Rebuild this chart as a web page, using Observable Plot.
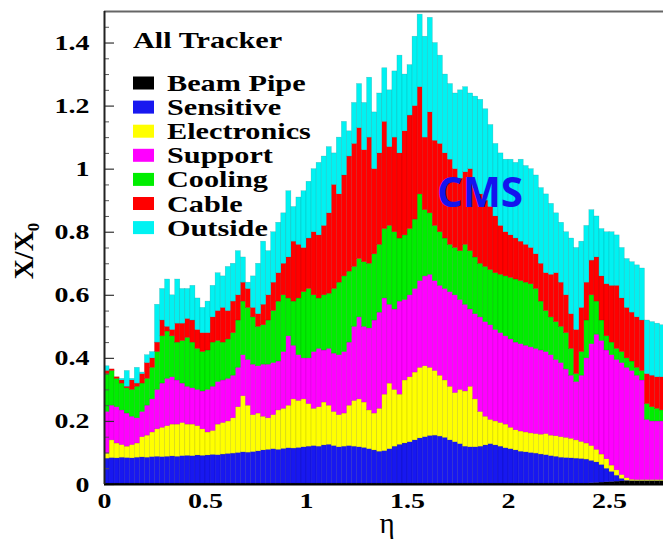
<!DOCTYPE html>
<html><head><meta charset="utf-8">
<script src="https://cdn.jsdelivr.net/npm/d3@7"></script>
<script src="https://cdn.jsdelivr.net/npm/@observablehq/plot@0.6"></script>
<style>body{margin:0;background:#fff} #chart{width:663px;height:541px;overflow:hidden}</style>
</head><body><div id="chart"></div>
<script>
// histogram bin width in eta
const binWidth = 0.025;
const layers = ["Beam Pipe","Sensitive","Electronics","Support","Cooling","Cable","Outside"];
const layerColors = ["#000000","#1818f0","#ffff00","#ff00ff","#00ee00","#ff0000","#00f2f2"];
const edgeColors = ["#000000","#0c0c8a","#9a9a00","#9a009a","#008a00","#9a0000","#128e8e"];
const xTicks = [0, 0.5, 1, 1.5, 2, 2.5];
const yTicks = [0, 0.2, 0.4, 0.6, 0.8, 1, 1.2, 1.4];
const yMinorTicks = [0.05,0.1,0.15,0.25,0.3,0.35,0.45,0.5,0.55,0.65,0.7,0.75,0.85,0.9,0.95,1.05,1.1,1.15,1.25,1.3,1.35,1.45];

// cumulative tops (X/X0) of each stacked component, one value per eta bin
const beamPipeTop = [0.003,0.003,0.003,0.003,0.003,0.003,0.003,0.003,0.003,0.003,0.003,0.003,
 0.003,0.003,0.003,0.003,0.003,0.003,0.003,0.003,
 0.003,0.003,0.003,0.003,0.003,0.003,0.003,0.003,0.003,0.003,
 0.003,0.003,0.003,0.003,0.003,0.003,0.003,0.003,0.003,0.003,
 0.003,0.003,0.003,0.003,0.003,0.003,0.003,0.003,0.003,0.003,
 0.003,0.003,0.003,0.003,0.003,0.003,0.003,0.003,0.003,0.003,
 0.003,0.003,0.003,0.003,0.003,0.003,0.003,0.003,0.003,0.003,
 0.003,0.003,0.003,0.003,0.003,0.003,0.003,0.003,0.003,0.003,
 0.003,0.003,0.003,0.003,0.003,0.003,0.003,0.003,0.003,0.003,
 0.003,0.003,0.003,0.003,0.003,0.003,0.004,0.005,0.006,0.007,
 0.008,0.009,0.010,0.010,0.010,0.010,0.010,0.010,0.010,0.010,0.010];
const sensitiveTop = [0.082,0.084,0.083,0.085,0.084,0.083,0.085,0.086,0.085,0.087,0.088,0.087,
 0.088,0.089,0.088,0.090,0.091,0.090,0.092,0.091,
 0.092,0.094,0.093,0.095,0.097,0.098,0.100,0.102,0.101,0.103,
 0.105,0.108,0.110,0.112,0.110,0.113,0.115,0.114,0.116,0.118,
 0.120,0.122,0.120,0.124,0.126,0.122,0.118,0.120,0.122,0.120,
 0.118,0.116,0.112,0.108,0.104,0.106,0.112,0.120,0.126,0.130,
 0.134,0.140,0.146,0.150,0.154,0.155,0.152,0.148,0.140,0.134,
 0.128,0.120,0.118,0.118,0.120,0.124,0.128,0.124,0.120,0.115,
 0.112,0.108,0.104,0.102,0.100,0.098,0.095,0.093,0.090,0.088,
 0.085,0.084,0.083,0.082,0.081,0.079,0.075,0.070,0.062,0.050,
 0.040,0.028,0.018,0.012,0.011,0.011,0.011,0.011,0.011,0.011,0.011];
const electronicsTop = [0.098,0.140,0.130,0.125,0.120,0.125,0.130,0.150,0.155,0.165,0.175,0.180,
 0.185,0.190,0.190,0.195,0.190,0.190,0.185,0.175,
 0.165,0.170,0.190,0.195,0.200,0.210,0.245,0.280,0.250,0.220,
 0.225,0.215,0.210,0.220,0.235,0.240,0.250,0.270,0.265,0.270,
 0.255,0.240,0.245,0.260,0.250,0.230,0.220,0.225,0.250,0.265,
 0.270,0.260,0.235,0.225,0.240,0.285,0.320,0.300,0.285,0.330,
 0.340,0.355,0.370,0.375,0.370,0.360,0.345,0.330,0.310,0.290,
 0.300,0.295,0.310,0.270,0.230,0.215,0.205,0.200,0.195,0.190,
 0.180,0.172,0.168,0.165,0.162,0.160,0.158,0.160,0.155,0.153,
 0.150,0.148,0.145,0.140,0.135,0.130,0.122,0.110,0.095,0.080,
 0.060,0.045,0.030,0.020,0.015,0.014,0.014,0.014,0.014,0.014,0.014];
const supportTop = [0.230,0.250,0.245,0.235,0.225,0.215,0.210,0.230,0.250,0.270,0.300,0.320,
 0.335,0.340,0.330,0.320,0.310,0.305,0.300,0.295,
 0.300,0.310,0.325,0.330,0.335,0.345,0.370,0.410,0.395,0.380,
 0.375,0.380,0.380,0.385,0.390,0.420,0.470,0.440,0.410,0.400,
 0.400,0.420,0.430,0.425,0.430,0.415,0.410,0.420,0.450,0.500,
 0.530,0.500,0.495,0.520,0.545,0.590,0.570,0.555,0.580,0.585,
 0.600,0.620,0.645,0.660,0.665,0.645,0.630,0.620,0.610,0.600,
 0.585,0.570,0.555,0.540,0.530,0.515,0.505,0.490,0.480,0.470,
 0.460,0.450,0.445,0.440,0.435,0.430,0.425,0.420,0.410,0.395,
 0.385,0.365,0.345,0.325,0.345,0.400,0.445,0.475,0.455,0.425,
 0.410,0.395,0.385,0.370,0.360,0.345,0.330,0.205,0.200,0.200,0.200];
const coolingTop = [0.350,0.360,0.335,0.320,0.305,0.300,0.310,0.320,0.335,0.370,0.420,0.470,
 0.485,0.470,0.450,0.455,0.465,0.450,0.430,0.420,
 0.425,0.450,0.455,0.450,0.460,0.480,0.520,0.580,0.560,0.530,
 0.500,0.505,0.520,0.550,0.580,0.600,0.590,0.580,0.590,0.610,
 0.620,0.600,0.590,0.600,0.605,0.620,0.640,0.660,0.675,0.690,
 0.715,0.705,0.700,0.730,0.760,0.810,0.820,0.800,0.780,0.790,
 0.810,0.840,0.920,0.870,0.860,0.820,0.800,0.780,0.760,0.750,
 0.740,0.760,0.740,0.720,0.700,0.690,0.680,0.670,0.665,0.660,
 0.655,0.650,0.645,0.640,0.635,0.620,0.580,0.550,0.530,0.515,
 0.500,0.480,0.430,0.350,0.420,0.520,0.600,0.580,0.520,0.470,
 0.450,0.430,0.420,0.400,0.390,0.370,0.360,0.255,0.245,0.240,0.235];
const cableTop = [0.360,0.365,0.340,0.330,0.310,0.330,0.320,0.350,0.385,0.400,0.450,0.520,
 0.500,0.490,0.510,0.510,0.525,0.520,0.490,0.480,
 0.480,0.530,0.550,0.560,0.550,0.580,0.600,0.640,0.620,0.560,
 0.540,0.570,0.600,0.640,0.670,0.700,0.720,0.770,0.760,0.750,
 0.780,0.800,0.790,0.820,0.860,0.950,0.920,0.980,1.040,1.080,
 1.130,1.060,1.100,1.000,1.050,1.150,1.070,1.100,1.050,1.120,
 1.170,1.200,1.260,1.100,1.180,1.090,1.080,1.050,1.030,1.000,
 0.970,0.990,1.000,0.940,0.920,0.900,0.880,0.850,0.820,0.800,
 0.790,0.780,0.770,0.760,0.750,0.730,0.700,0.670,0.665,0.670,
 0.640,0.600,0.540,0.490,0.560,0.640,0.710,0.720,0.660,0.635,
 0.630,0.630,0.590,0.560,0.545,0.530,0.520,0.350,0.345,0.340,0.340];
const outsideTop = [0.375,0.365,0.340,0.335,0.360,0.335,0.370,0.355,0.410,0.420,0.570,0.620,
 0.650,0.600,0.650,0.620,0.620,0.630,0.590,0.560,
 0.580,0.630,0.670,0.660,0.690,0.700,0.740,0.720,0.640,0.660,
 0.700,0.770,0.740,0.800,0.830,0.860,0.930,0.880,0.910,0.930,
 0.960,1.000,1.020,1.040,1.070,1.050,1.100,1.150,1.120,1.210,
 1.270,1.210,1.290,1.180,1.240,1.320,1.250,1.310,1.360,1.300,
 1.330,1.420,1.490,1.420,1.480,1.400,1.360,1.300,1.270,1.240,
 1.250,1.260,1.240,1.230,1.220,1.190,1.140,1.080,1.050,1.030,
 1.030,1.020,1.030,1.010,1.000,0.980,0.940,0.920,0.890,0.860,
 0.830,0.800,0.780,0.750,0.770,0.820,0.870,0.850,0.810,0.800,
 0.800,0.790,0.750,0.715,0.705,0.695,0.685,0.520,0.515,0.510,0.505];

const tops = [beamPipeTop, sensitiveTop, electronicsTop, supportTop, coolingTop, cableTop, outsideTop];

const layerMarks = layers.map((name, k) => {
  const rows = tops[k].map((v, i) => ({x1: i * binWidth, x2: (i + 1) * binWidth, y1: k ? tops[k - 1][i] : 0, y2: v}));
  return Plot.rect(rows, {x1: "x1", x2: "x2", y1: "y1", y2: "y2", fill: layerColors[k], stroke: edgeColors[k], strokeWidth: 0.5, strokeOpacity: 0.45, clip: true});
});

const fontSerif = "'Liberation Serif','Times New Roman',serif";
const plot = Plot.plot({
  width: 663, height: 541,
  marginLeft: 104, marginRight: 0, marginTop: 11, marginBottom: 57,
  x: {domain: [0, 2.767], ticks: xTicks, tickFormat: d => String(d), tickSize: 0, tickPadding: 8, label: null},
  y: {domain: [0, 1.5], ticks: yTicks, tickFormat: d => String(d), tickSize: 0, tickPadding: 15, label: null},
  style: {fontFamily: fontSerif, fontWeight: "bold", fontSize: "22px", background: "white", color: "black"},
  marks: [
    ...layerMarks,
    Plot.tickY(yTicks, {y: d => d, insetRight: 549, stroke: "#333", strokeWidth: 1.2}),
    Plot.tickY(yMinorTicks, {y: d => d, insetRight: 554, stroke: "#555", strokeWidth: 1}),
    Plot.ruleY([1.5], {stroke: "#666", strokeWidth: 2}),
    Plot.ruleY([0], {stroke: "#000", strokeWidth: 2}),
    Plot.ruleX([0], {stroke: "#222", strokeWidth: 2})
  ]
});
document.getElementById("chart").appendChild(plot);

const svg = d3.select(plot);
const stretchFactor = 1.27;
function stretch(sel, f) {
  sel.each(function() {
    const L = this.getComputedTextLength();
    this.setAttribute("textLength", L * f);
    this.setAttribute("lengthAdjust", "spacingAndGlyphs");
  });
}
stretch(svg.selectAll("g[aria-label$='tick label'] text"), stretchFactor);

// legend
const lg = svg.append("g").attr("font-family", fontSerif).attr("font-weight", "bold").attr("text-anchor", "start");
lg.append("text").attr("x", 133).attr("y", 48).attr("font-size", 24).text("All Tracker");
layers.forEach((name, k) => {
  const cy = 83 + k * 24.1;
  lg.append("rect").attr("x", 133).attr("y", cy - 6.5).attr("width", 21).attr("height", 13).attr("fill", layerColors[k]);
  lg.append("text").attr("x", 167).attr("y", cy + 8).attr("font-size", 24).text(name);
});
stretch(lg.selectAll("text"), 1.26);

// axis titles
const yl = svg.append("text").attr("transform", "translate(33,251) rotate(-90)").attr("text-anchor", "middle")
  .attr("font-family", fontSerif).attr("font-weight", "bold").attr("font-size", 28);
yl.append("tspan").text("X/X");
yl.append("tspan").attr("font-size", 17).attr("dy", 6).text("0");
svg.append("text").attr("x", 387).attr("y", 533).attr("text-anchor", "middle")
  .attr("font-family", fontSerif).attr("font-weight", "normal").attr("font-size", 29).text("η");

// CMS label
svg.append("text").attr("x", 437).attr("y", 207).attr("text-anchor", "start")
  .attr("font-family", "'Open Sans','Noto Sans',sans-serif")
  .attr("font-weight", "bold").attr("font-size", 41).attr("fill", "#1414ee")
  .attr("textLength", 86).attr("lengthAdjust", "spacingAndGlyphs").text("CMS");
</script>
</body></html>
